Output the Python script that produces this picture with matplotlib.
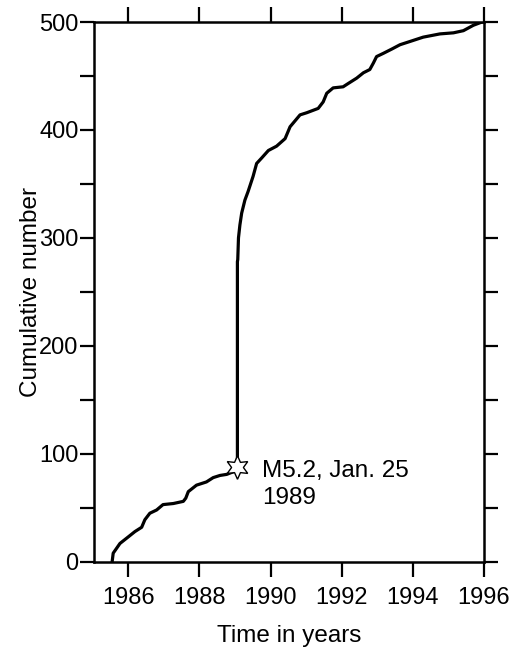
import matplotlib.pyplot as plt
from matplotlib.ticker import MultipleLocator

# cumulative event count
years = [1985.55, 1985.58, 1985.77, 1986.00, 1986.19, 1986.38, 1986.47, 1986.61,
         1986.80, 1986.98, 1987.27, 1987.55, 1987.62, 1987.69, 1987.92, 1988.20,
         1988.39, 1988.58, 1988.77, 1989.00, 1989.07, 1989.07, 1989.08, 1989.10,
         1989.14, 1989.19, 1989.28, 1989.37, 1989.51, 1989.61, 1989.75, 1989.94,
         1990.17, 1990.41, 1990.55, 1990.83, 1991.02, 1991.34, 1991.48, 1991.58,
         1991.76, 1992.04, 1992.18, 1992.42, 1992.61, 1992.79, 1992.89, 1992.98,
         1993.17, 1993.41, 1993.64, 1993.92, 1994.29, 1994.76, 1995.14, 1995.42,
         1995.70, 1995.94, 1996.00]
counts = [0, 8, 17, 23, 28, 32, 39, 45,
          48, 53, 54, 56, 59, 65, 71, 74,
          78, 80, 81, 84, 88, 278, 280, 300,
          312, 323, 335, 343, 357, 369, 374, 381,
          385, 392, 403, 414, 416, 420, 426, 434,
          439, 440, 443, 448, 453, 456, 462, 468,
          471, 475, 479, 482, 486, 489, 490, 492,
          497, 500, 500]

quake_time = 1989.07
quake_count = 88
quake_label = 'M5.2, Jan. 25\n1989'

plt.rcParams['font.family'] = ['Liberation Sans', 'DejaVu Sans']

fig = plt.figure(figsize=(5.25, 6.48), dpi=100)
ax = fig.add_axes([0.179, 0.133, 0.743, 0.833])

ax.plot(years, counts, color='black', lw=2.3, solid_joinstyle='round', zorder=2)
ax.plot([quake_time], [quake_count], marker=(6, 1, 0), ms=17, mfc='white',
        mec='black', mew=1.0, linestyle='none', zorder=3)
# label block sits just right of the star, first line level with it
ax.text(quake_time + 0.69, quake_count - 16, quake_label, fontsize=17.5,
        va='center', ha='left', linespacing=1.3)

ax.set_xlim(1985.04, 1996)
ax.set_ylim(0, 500)
ax.set_xticks([1986, 1988, 1990, 1992, 1994, 1996])
ax.yaxis.set_major_locator(MultipleLocator(100))
ax.yaxis.set_minor_locator(MultipleLocator(50))

ax.tick_params(axis='x', which='both', direction='out', top=True, length=11,
               width=1.6, labelsize=17, pad=7)
ax.tick_params(axis='y', which='both', direction='out', right=True, length=10,
               width=1.6, labelsize=17, pad=1)

for s in ax.spines.values():
    s.set_linewidth(1.8)

ax.set_xlabel('Time in years', fontsize=17.5, labelpad=12)
ax.set_ylabel('Cumulative number', fontsize=17.5, labelpad=-2)

fig.savefig('out.png', dpi=100)
